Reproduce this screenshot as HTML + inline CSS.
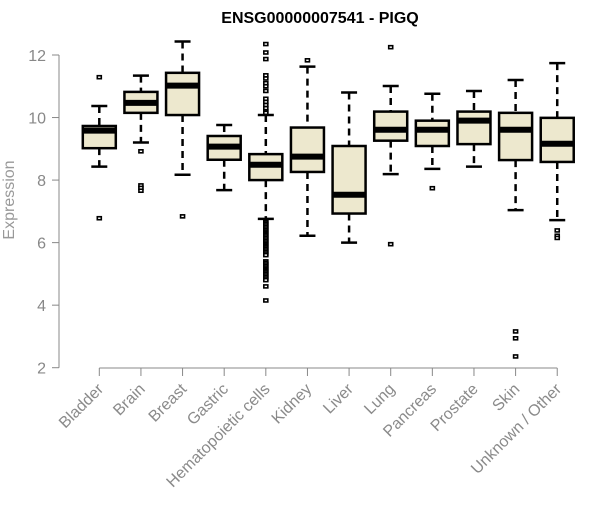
<!DOCTYPE html>
<html><head><meta charset="utf-8"><style>
body{margin:0;background:#fff;}
svg text{font-family:"Liberation Sans",Arial,sans-serif;}
</style></head><body>
<svg id="chart" width="600" height="500" xmlns="http://www.w3.org/2000/svg">
<text x="320" y="23" text-anchor="middle" font-size="16" font-weight="bold">ENSG00000007541 - PIGQ</text>
<text transform="translate(14,200) rotate(-90)" text-anchor="middle" font-size="16" fill="#999">Expression</text>
<g id="axes"></g><g id="marks"></g>
</svg>
<script>
const categories=["Bladder","Brain","Breast","Gastric","Hematopoietic cells","Kidney","Liver","Lung","Pancreas","Prostate","Skin","Unknown / Other"];
const whiskerLow=[8.43,9.2,8.17,7.68,6.76,6.22,6.0,8.19,8.36,8.43,7.04,6.72];
const q1=[9.02,10.15,10.08,8.65,8.0,8.26,6.93,9.26,9.09,9.15,8.64,8.58];
const medians=[9.58,10.47,11.02,9.07,8.49,8.75,7.53,9.61,9.61,9.9,9.61,9.16];
const q3=[9.73,10.82,11.43,9.41,8.83,9.68,9.09,10.19,9.9,10.19,10.15,9.99];
const whiskerHigh=[10.37,11.34,12.43,9.76,10.08,11.63,10.8,11.01,10.76,10.85,11.2,11.74];
const outliers=[[11.29,6.78],[8.92,7.83,7.75,7.66],[6.84],[],
[12.35,12.08,11.87,11.35,11.25,11.1,11.0,10.85,10.6,10.5,10.4,10.3,10.2,10.15,
6.7,6.65,6.6,6.55,6.5,6.45,6.4,6.35,6.3,6.25,6.2,6.15,6.1,6.05,6.0,5.95,5.9,5.85,5.8,5.75,5.7,5.65,5.6,
5.4,5.35,5.3,5.25,5.2,5.15,5.1,5.05,5.0,4.95,4.9,4.85,4.8,4.6,4.15],
[11.83],[],[12.25,5.95],[7.74],[],[3.16,2.94,2.36],[6.39,6.22,6.15]];
const yTicks=[2,4,6,8,10,12];
const NS="http://www.w3.org/2000/svg";
const Y=v=>55+(12-v)*31.27;
const X=i=>99.3+i*41.63;
const ax=document.getElementById('axes'),mk=document.getElementById('marks');
function mkEl(t,a,p){const e=document.createElementNS(NS,t);for(const k in a)e.setAttribute(k,a[k]);p.appendChild(e);return e;}
let l=mkEl('line',{x1:59,x2:59,y1:Y(12),y2:Y(2),stroke:'#888'},ax);


yTicks.forEach(t=>{
 const tk=mkEl('line',{x1:52,x2:59,y1:Y(t),y2:Y(t),stroke:'#888'},ax);
 
 
 const tx=mkEl('text',{x:46,y:Y(t)+6,'text-anchor':'end','font-size':16,fill:'#888'},ax);
 tx.textContent=t;
 
 
});
l=mkEl('line',{x1:X(0),x2:X(categories.length-1),y1:368,y2:368,stroke:'#888'},ax);


categories.forEach((c,i)=>{
 const x=X(i);
 const tk=mkEl('line',{x1:x,x2:x,y1:368,y2:376,stroke:'#888'},ax);
 
 
 const tx=mkEl('text',{transform:`translate(${x+5},${390}) rotate(-45)`,'text-anchor':'end','font-size':16,fill:'#8a8a8a'},ax);
 tx.textContent=c;
 
 
 const g=mkEl('g',{},mk);
 
 
 mkEl('line',{x1:x,x2:x,y1:Y(whiskerHigh[i]),y2:Y(q3[i]),stroke:'#000','stroke-width':2.5,'stroke-dasharray':'7,5'},g);
 mkEl('line',{x1:x,x2:x,y1:Y(q1[i]),y2:Y(whiskerLow[i]),stroke:'#000','stroke-width':2.5,'stroke-dasharray':'7,5'},g);
 mkEl('line',{x1:x-8,x2:x+8,y1:Y(whiskerHigh[i]),y2:Y(whiskerHigh[i]),stroke:'#000','stroke-width':2.5},g);
 mkEl('line',{x1:x-8,x2:x+8,y1:Y(whiskerLow[i]),y2:Y(whiskerLow[i]),stroke:'#000','stroke-width':2.5},g);
 mkEl('rect',{x:x-16.5,y:Y(q3[i]),width:33,height:Y(q1[i])-Y(q3[i]),fill:'#ede8ce',stroke:'#000','stroke-width':2.5},g);
 mkEl('line',{x1:x-16.5,x2:x+16.5,y1:Y(medians[i]),y2:Y(medians[i]),stroke:'#000','stroke-width':6},g);
 outliers[i].forEach(v=>{
  const o=mkEl('rect',{x:x-2,y:Y(v)-1.5,width:4,height:3,fill:'#fff',stroke:'#000','stroke-width':1.6},g);
  
  
 });
});
</script>
</body></html>
